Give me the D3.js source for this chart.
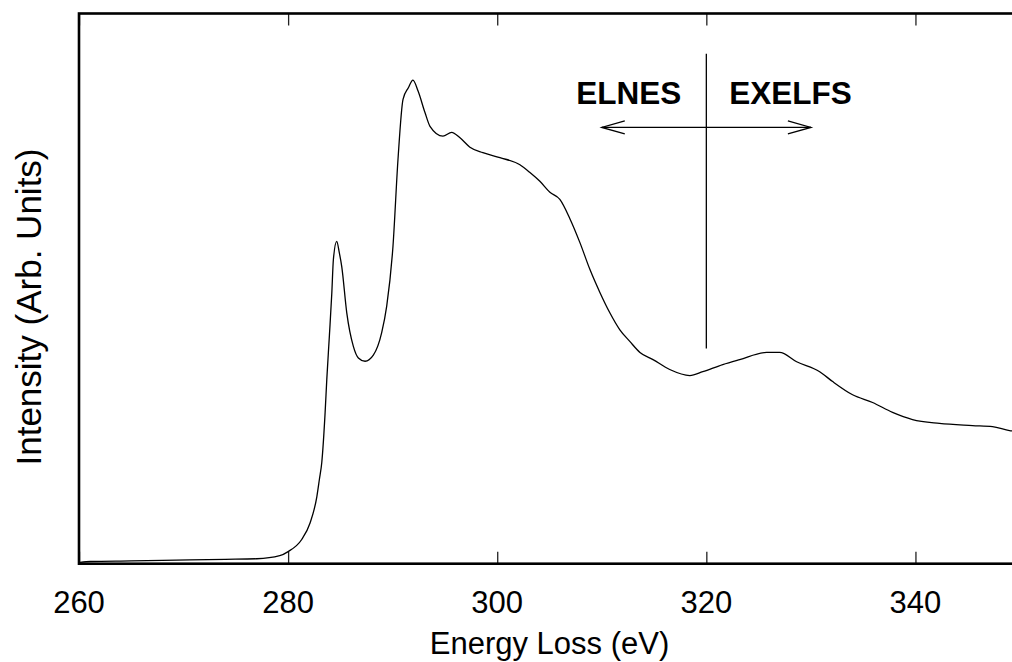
<!DOCTYPE html>
<html>
<head>
<meta charset="utf-8">
<script src="https://cdn.jsdelivr.net/npm/d3@7"></script>
<style>
  html, body { margin: 0; padding: 0; background: #fff; }
  #chart { width: 1012px; height: 662px; overflow: hidden; }
  text { font-family: "Liberation Sans", Arial, sans-serif; fill: #000; }
</style>
</head>
<body>
<div id="chart"></div>
<script>
// carbon K-edge spectrum
const energy = [
  260.1, 261.1, 265.0, 270.6, 274.0, 277.0, 279.2, 280.0, 281.3, 282.1,
  282.75, 282.99, 283.22, 283.54, 283.7, 283.95, 284.18, 284.33, 284.65, 284.9, 285.13,
  285.61, 286.24, 286.72, 287.36, 288.15, 288.95, 289.43, 290.03, 290.51, 290.99,
  291.5, 291.94, 292.43, 293.09, 293.57, 294.81, 295.64, 296.44, 297.39, 298.63,
  300.26, 302.17, 303.13, 304.08, 305.04, 305.99, 306.95, 307.9, 308.86, 309.82,
  310.77, 311.73, 312.68, 313.65, 314.9, 316.5, 318.42, 319.66, 321.57, 323.19,
  325.77, 327.01, 328.64, 330.84, 332.08, 333.99, 335.9, 337.81, 339.72, 342.3,
  345.46, 347.37, 349.0, 350.0
];
const intensity = [
  0.25, 0.4, 0.5, 0.7, 0.8, 0.9, 1.45, 2.2, 4.4, 7.4,
  12.2, 15.3, 18.4, 27.5, 33.5, 41.5, 49.2, 55.3, 58.6, 56.5, 54.0,
  45.6, 39.5, 37.4, 36.8, 37.9, 42.0, 46.8, 57.7, 73.5, 84.4,
  86.5, 87.9, 85.9, 82.0, 79.5, 77.7, 78.4, 77.4, 75.7, 74.7,
  73.8, 72.5, 71.1, 69.5, 67.5, 66.2, 62.7, 58.4, 53.5, 49.3,
  45.6, 42.5, 40.4, 38.4, 37.1, 35.3, 34.2, 34.9, 36.2, 37.1,
  38.4, 38.4, 36.7, 34.9, 33.1, 30.7, 29.3, 27.5, 26.2, 25.5,
  25.1, 24.9, 24.2, 24.0
];
const xTicks = [260, 280, 300, 320, 340];

// ELNES / EXELFS marker
const markerE = 320;
const markerTop = 92.7, markerBottom = 39.1;
const arrowFrom = 310, arrowTo = 330, arrowLevel = 79.3;
const labelLevel = 83.5;

let width = 1012;
let height = 662;
let margin = { left: 79, right: -8, top: 13.5, bottom: 98.3 };
let innerW = width - margin.left - margin.right;
let innerH = height - margin.top - margin.bottom;

let svg = d3
  .select("#chart")
  .append("svg")
  .attr("width", width)
  .attr("height", height);

let g = svg.append("g").attr("transform", `translate(${margin.left}, ${margin.top})`);

let xScale = d3.scaleLinear().domain([260, 350]).range([0, innerW]);
let yScale = d3.scaleLinear().domain([0, 100]).range([innerH, 0]);

g.append("clipPath")
  .attr("id", "plotclip")
  .append("rect")
  .attr("width", innerW)
  .attr("height", innerH);

// inner ticks, bottom and top
g.append("g")
  .attr("transform", `translate(0, ${innerH})`)
  .call(d3.axisBottom(xScale).tickValues(xTicks).tickSize(-12).tickFormat(""))
  .call((a) => a.select(".domain").remove())
  .call((a) => a.selectAll("line").attr("stroke", "#222").attr("stroke-width", 1.3));

g.append("g")
  .call(d3.axisTop(xScale).tickValues(xTicks).tickSize(-12).tickFormat(""))
  .call((a) => a.select(".domain").remove())
  .call((a) => a.selectAll("line").attr("stroke", "#222").attr("stroke-width", 1.3));

// tick labels
g.selectAll(".xlab")
  .data(xTicks)
  .enter()
  .append("text")
  .attr("x", (d) => xScale(d))
  .attr("y", innerH + 49)
  .attr("text-anchor", "middle")
  .style("font-size", "31px")
  .text((d) => d);

// spectrum
let line = d3
  .line()
  .x((d, i) => xScale(energy[i]))
  .y((d) => yScale(d))
  .curve(d3.curveMonotoneX);

g.append("path")
  .datum(intensity)
  .attr("clip-path", "url(#plotclip)")
  .attr("fill", "none")
  .attr("stroke", "#000")
  .attr("stroke-width", 1.3)
  .attr("d", line);

// marker line and arrows
g.append("line")
  .attr("x1", xScale(markerE)).attr("x2", xScale(markerE))
  .attr("y1", yScale(markerTop)).attr("y2", yScale(markerBottom))
  .attr("stroke", "#000").attr("stroke-width", 1.3);

g.append("line")
  .attr("x1", xScale(arrowFrom)).attr("x2", xScale(arrowTo))
  .attr("y1", yScale(arrowLevel)).attr("y2", yScale(arrowLevel))
  .attr("stroke", "#000").attr("stroke-width", 1.3);

let ay = yScale(arrowLevel);
[[arrowFrom, 1], [arrowTo, -1]].forEach(([e, dir]) => {
  let x0 = xScale(e);
  g.append("path")
    .attr("d", `M${x0 + dir * 23},${ay - 6.5}L${x0},${ay}L${x0 + dir * 23},${ay + 6.5}`)
    .attr("fill", "none")
    .attr("stroke", "#000")
    .attr("stroke-width", 1.3);
});

g.append("text")
  .attr("x", xScale(markerE) - 25)
  .attr("y", yScale(labelLevel))
  .attr("text-anchor", "end")
  .style("font-size", "31.5px")
  .style("font-weight", "bold")
  .text("ELNES");

g.append("text")
  .attr("x", xScale(markerE) + 23)
  .attr("y", yScale(labelLevel))
  .attr("text-anchor", "start")
  .style("font-size", "31.5px")
  .style("font-weight", "bold")
  .text("EXELFS");

// frame
g.append("rect")
  .attr("width", innerW)
  .attr("height", innerH)
  .attr("fill", "none")
  .attr("stroke", "#000")
  .attr("stroke-width", 2.6);

// axis titles
svg.append("text")
  .attr("x", margin.left + innerW / 2)
  .attr("y", 654)
  .attr("text-anchor", "middle")
  .style("font-size", "31px")
  .text("Energy Loss (eV)");

svg.append("text")
  .attr("transform", `translate(41, 307) rotate(-90)`)
  .attr("text-anchor", "middle")
  .style("font-size", "35px")
  .text("Intensity (Arb. Units)");
</script>
</body>
</html>
